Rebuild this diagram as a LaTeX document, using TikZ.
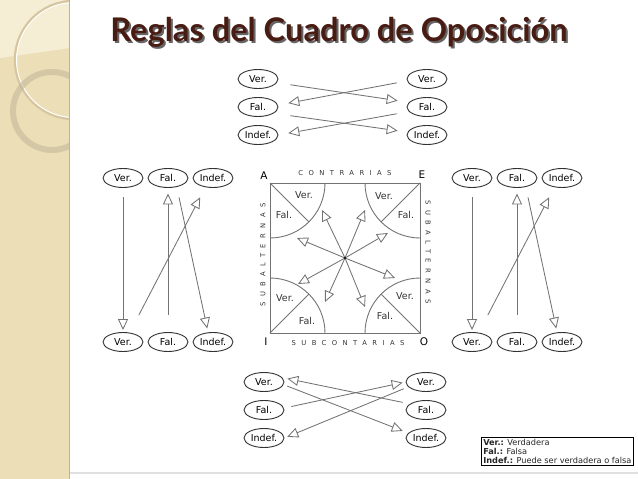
\documentclass[tikz,border=0pt]{standalone}
\usepackage{fontspec}
\setmainfont{DejaVu Sans}
\newfontfamily\titlefont{Lato}
\usetikzlibrary{shapes.geometric, arrows.meta}
\definecolor{stripbeige}{RGB}{236, 222, 183}
\definecolor{striplight}{RGB}{245, 237, 212}
\definecolor{stripedge}{RGB}{196, 178, 138}
\definecolor{ringtan}{RGB}{214, 198, 160}
\definecolor{titlebrown}{RGB}{72, 28, 18}
\definecolor{linegray}{RGB}{115, 115, 115}
\definecolor{ovalgray}{RGB}{50, 50, 50}
\tikzset{
  openarrow/.style={-{Triangle[open, length=11pt, width=10pt]}, line width=0.85pt, linegray},
  squareline/.style={line width=0.9pt, linegray}
}

\begin{document}
\begin{tikzpicture}[
    x=1pt, y=-1pt,
    opt/.style={ellipse, draw=ovalgray, line width=0.9pt, fill=white, minimum width=40pt, minimum height=19pt, inner sep=0pt, font=\fontsize{9.5}{10}\selectfont},
    tag/.style={font=\fontsize{9.5}{10}\selectfont, text=black!80},
    corner/.style={font=\fontsize{10.5}{11}\selectfont},
    spaced/.style={font=\fontsize{6.8}{7}\selectfont\addfontfeature{LetterSpace=80}, text=black!80},
    legendbox/.style={draw=black, line width=0.5pt, fill=white, align=left, inner sep=2pt, font=\fontsize{8.2}{8.8}\selectfont, text=black!85}
]
    \useasboundingbox (0,0) rectangle (638,479);

    % Side strip
    \fill[stripbeige] (0,0) rectangle (70,479);
    \begin{scope}
        \clip (0,0) rectangle (69,479);
        \fill[striplight] (0,0) -- (70,0) -- (70,48) -- (0,58) -- cycle;
        \draw[ringtan, line width=2.5pt] (74,60) circle (59);
        \draw[white, line width=1pt] (74,60) circle (57.5);
        \draw[ringtan!85!black!90, line width=6pt, opacity=0.5] (52,111) circle (39);
    \end{scope}
    \draw[stripedge, line width=1.5pt] (69.5,0) -- (69.5,479);
    \draw[black!12, line width=1.5pt] (70,473) -- (638,473);

    % Title
    \node[font=\titlefont\bfseries\fontsize{32.6}{34}\selectfont, text=black!60] at (341,34) {Reglas del Cuadro de Oposición};
    \node[font=\titlefont\bfseries\fontsize{32.6}{34}\selectfont, text=titlebrown] (title) at (339,32) {Reglas del Cuadro de Oposición};

    % Top group
    \node[opt] (tl1) at (258,79) {Ver.};
    \node[opt] (tl2) at (258,107) {Fal.};
    \node[opt] (tl3) at (258,135) {Indef.};
    \node[opt] (tr1) at (427,79) {Ver.};
    \node[opt] (tr2) at (427,107) {Fal.};
    \node[opt] (tr3) at (427,135) {Indef.};
    \draw[openarrow, shorten <=12pt, shorten >=9pt] ([yshift=-4pt]tl1.east) -- ([yshift=5pt]tr2.west);
    \draw[openarrow, shorten <=10pt, shorten >=10pt] ([yshift=-2pt]tr1.west) -- ([yshift=2pt]tl2.east);
    \draw[openarrow, shorten <=12pt, shorten >=9pt] ([yshift=-7pt]tl2.east) -- ([yshift=3pt]tr3.west);
    \draw[openarrow, shorten <=10pt, shorten >=10pt] ([yshift=-5pt]tr2.west) -- (tl3.east);

    % Left group
    \node[opt] (lv1) at (123,178) {Ver.};
    \node[opt] (lf1) at (168,178) {Fal.};
    \node[opt] (li1) at (213,178) {Indef.};
    \node[opt] (lv2) at (123,342) {Ver.};
    \node[opt] (lf2) at (168,342) {Fal.};
    \node[opt] (li2) at (213,342) {Indef.};
    \draw[openarrow, shorten <=9.5pt, shorten >=2pt] (lv1) -- (lv2);
    \draw[openarrow, shorten <=17pt, shorten >=5.5pt] (lf2) -- (lf1);
    \draw[openarrow, shorten <=19pt, shorten >=10.5pt] ([xshift=7pt]lv2.north) -- ([xshift=-8pt]li1.south);
    \draw[openarrow, shorten <=9.7pt, shorten >=3.6pt] ([xshift=9pt]lf1.south) -- ([xshift=-5pt]li2.north);

    % Right group
    \node[opt] (rv1) at (472,178) {Ver.};
    \node[opt] (rf1) at (517,178) {Fal.};
    \node[opt] (ri1) at (562,178) {Indef.};
    \node[opt] (rv2) at (472,342) {Ver.};
    \node[opt] (rf2) at (517,342) {Fal.};
    \node[opt] (ri2) at (562,342) {Indef.};
    \draw[openarrow, shorten <=9.5pt, shorten >=2pt] (rv1) -- (rv2);
    \draw[openarrow, shorten <=17pt, shorten >=5.5pt] (rf2) -- (rf1);
    \draw[openarrow, shorten <=19pt, shorten >=10.5pt] ([xshift=7pt]rv2.north) -- ([xshift=-8pt]ri1.south);
    \draw[openarrow, shorten <=9.7pt, shorten >=3.6pt] ([xshift=9pt]rf1.south) -- ([xshift=-5pt]ri2.north);

    % Square of opposition
    \coordinate (sqA) at (270,183);
    \coordinate (sqE) at (420,183);
    \coordinate (sqI) at (270,333);
    \coordinate (sqO) at (420,333);
    \draw[squareline] (sqA) rectangle (sqO);
    \draw[squareline] (270,238) arc[start angle=90, end angle=0, radius=55];
    \draw[squareline] (365,183) arc[start angle=180, end angle=90, radius=55];
    \draw[squareline] (270,278) arc[start angle=-90, end angle=0, radius=55];
    \draw[squareline] (365,333) arc[start angle=180, end angle=270, radius=55];
    \draw[squareline] (sqA) -- ++(38.9,38.9);
    \draw[squareline] (sqE) -- ++(-38.9,38.9);
    \draw[squareline] (sqI) -- ++(38.9,-38.9);
    \draw[squareline] (sqO) -- ++(-38.9,-38.9);

    \node[corner] (labA) at (264,176) {A};
    \node[corner] (labE) at (422,175) {E};
    \node[corner] (labI) at (266,342) {I};
    \node[corner] (labO) at (424,342) {O};
    \node[spaced] (contr) at (345,173) {CONTRARIAS};
    \node[spaced] (subco) at (348,343) {SUBCONTARIAS};
    \node[spaced, rotate=90] (subl) at (263,255) {SUBALTERNAS};
    \node[spaced, rotate=-90] (subr) at (428,252) {SUBALTERNAS};

    \node[tag] (aver) at (304,195) {Ver.};
    \node[tag] (afal) at (284,215) {Fal.};
    \node[tag] (ever) at (384,196) {Ver.};
    \node[tag] (efal) at (406,215) {Fal.};
    \node[tag] (iver) at (285,298) {Ver.};
    \node[tag] (ifal) at (307,321) {Fal.};
    \node[tag] (over) at (405,296) {Ver.};
    \node[tag] (ofal) at (385,316) {Fal.};

    \coordinate (ctr) at (345,258);
    \coordinate (c1) at (322,210);
    \coordinate (c2) at (365,210);
    \coordinate (c3) at (297,238);
    \coordinate (c4) at (388,233);
    \coordinate (c5) at (298,284);
    \coordinate (c6) at (395,278);
    \coordinate (c7) at (325,302);
    \coordinate (c8) at (365,307);
    \foreach \t in {c1,c2,c3,c4,c5,c6,c7,c8}
        \draw[openarrow] (ctr) -- (\t);
    \fill[black] (ctr) circle (1.2);

    % Bottom group
    \node[opt] (bl1) at (264,382) {Ver.};
    \node[opt] (bl2) at (264,410) {Fal.};
    \node[opt] (bl3) at (264,438) {Indef.};
    \node[opt] (br1) at (426,382) {Ver.};
    \node[opt] (br2) at (426,410) {Fal.};
    \node[opt] (br3) at (426,438) {Indef.};
    \draw[openarrow, shorten <=3pt, shorten >=3pt] ([yshift=7pt]br2.west) -- ([yshift=4pt]bl1.east);
    \draw[openarrow, shorten <=3pt, shorten >=3pt] ([yshift=-3pt]bl1.east) -- ([yshift=6pt]br3.west);
    \draw[openarrow, shorten <=7pt, shorten >=3pt] ([yshift=2pt]bl2.east) -- (br1.west);
    \draw[openarrow, shorten <=2pt, shorten >=3pt] ([yshift=-6pt]br1.west) -- (bl3.east);

    % Legend
    \node[legendbox, anchor=north west] (legend) at (481,437) {\textbf{Ver.:} Verdadera\\\textbf{Fal.:} Falsa\\\textbf{Indef.:} Puede ser verdadera o falsa};
\end{tikzpicture}
\end{document}
